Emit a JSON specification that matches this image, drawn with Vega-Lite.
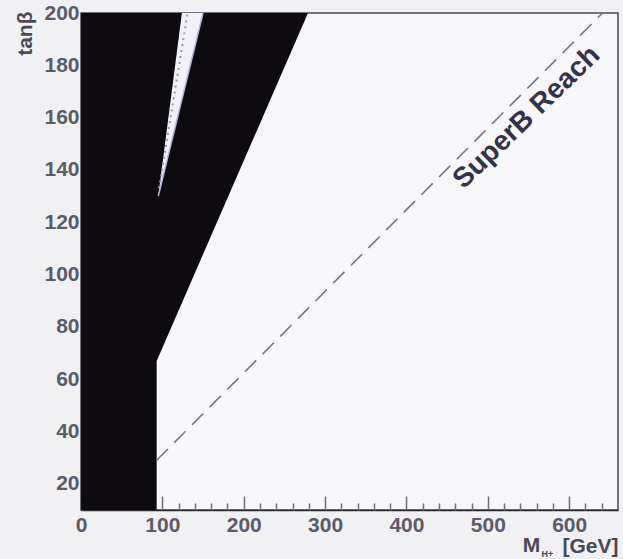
{
  "$schema": "https://vega.github.io/schema/vega-lite/v6.json",
  "width": 537,
  "height": 497,
  "autosize": {"type": "none"},
  "padding": {"left": 81, "top": 13, "right": 5, "bottom": 49},
  "background": "#f1f0f3",
  "config": {
    "view": {"fill": "#f8f7f9", "stroke": "#4a4952", "strokeWidth": 1.5},
    "font": "Liberation Sans",
    "axis": {"grid": false, "labelFont": "Liberation Sans", "titleFont": "Liberation Sans"}
  },
  "resolve": {"axis": {"x": "independent"}},
  "layer": [
    {
      "description": "excluded region: direct limit plus the tan(beta)/M_H bound",
      "data": {"values": [
        {"tb": 10, "lo": 0, "hi": 93},
        {"tb": 67, "lo": 0, "hi": 93},
        {"tb": 200, "lo": 0, "hi": 279}
      ]},
      "mark": {"type": "area", "orient": "horizontal", "color": "#0d0b10", "opacity": 1},
      "encoding": {
        "y": {
          "field": "tb", "type": "quantitative",
          "scale": {"domain": [10, 200], "nice": false, "zero": false},
          "axis": {
            "values": [20, 40, 60, 80, 100, 120, 140, 160, 180, 200],
            "domain": false, "ticks": false, "labelPadding": 2,
            "labelFontSize": 21, "labelFontWeight": "bold", "labelColor": "#5c5b68",
            "title": "tanβ", "titleFontSize": 21, "titleFontWeight": "bold", "titleColor": "#4a4956",
            "titleAngle": 270, "titleAlign": "right", "titleBaseline": "middle",
            "titleX": -56, "titleY": -2
          }
        },
        "x": {
          "field": "lo", "type": "quantitative",
          "scale": {"domain": [0, 660], "nice": false},
          "axis": {
            "orient": "bottom",
            "values": [0, 100, 200, 300, 400, 500, 600],
            "labelOverlap": false,
            "tickSize": -14,
            "tickColor": "#6f6e78", "tickWidth": 1.5,
            "domainColor": "#2c2b33", "domainWidth": 1.5,
            "labelPadding": 18, "labelFontSize": 21, "labelFontWeight": "bold", "labelColor": "#5c5b68",
            "labelFlush": false,
            "title": "[GeV]", "titleFontSize": 21, "titleFontWeight": "bold", "titleColor": "#4a4956",
            "titleAnchor": "end", "titleAlign": "right", "titleBaseline": "alphabetic",
            "titleX": 537, "titleY": 42
          }
        },
        "x2": {"field": "hi"}
      }
    },
    {
      "description": "narrow allowed band inside the excluded wedge",
      "data": {"values": [
        {"tb": 130, "lo": 95, "hi": 95},
        {"tb": 200, "lo": 124, "hi": 150}
      ]},
      "mark": {"type": "area", "orient": "horizontal", "color": "#f2f1f7"},
      "encoding": {
        "y": {"field": "tb", "type": "quantitative"},
        "x": {
          "field": "lo", "type": "quantitative",
          "axis": {
            "orient": "bottom",
            "values": [120, 140, 160, 180, 220, 240, 260, 280, 320, 340, 360, 380, 420, 440, 460, 480, 520, 540, 560, 580, 620, 640],
            "labels": false, "domain": false, "title": null,
            "tickSize": -7, "tickColor": "#6f6e78", "tickWidth": 1.5
          }
        },
        "x2": {"field": "hi"}
      }
    },
    {
      "data": {"values": [
        {"m": 96, "tb": 133},
        {"m": 131, "tb": 200}
      ]},
      "mark": {"type": "line", "color": "#9896a6", "strokeWidth": 2, "strokeDash": [2, 4]},
      "encoding": {
        "x": {"field": "m", "type": "quantitative", "axis": null},
        "y": {"field": "tb", "type": "quantitative"}
      }
    },
    {
      "data": {"values": [
        {"m": 95, "tb": 130},
        {"m": 150, "tb": 200}
      ]},
      "mark": {"type": "line", "color": "#b7b3dc", "strokeWidth": 1.5},
      "encoding": {
        "x": {"field": "m", "type": "quantitative", "axis": null},
        "y": {"field": "tb", "type": "quantitative"}
      }
    },
    {
      "description": "SuperB reach: tan(beta)/M_H = 0.312",
      "data": {"values": [
        {"m": 93, "tb": 29},
        {"m": 641, "tb": 200}
      ]},
      "mark": {"type": "line", "color": "#77767f", "strokeWidth": 1.6, "strokeDash": [16, 9]},
      "encoding": {
        "x": {"field": "m", "type": "quantitative", "axis": null},
        "y": {"field": "tb", "type": "quantitative"}
      }
    },
    {
      "data": {"values": [{}]},
      "mark": {"type": "text", "text": "SuperB Reach", "angle": -44, "fontSize": 28, "fontWeight": "bold", "color": "#34324a", "align": "center", "baseline": "middle"},
      "encoding": {
        "x": {"datum": 548, "type": "quantitative", "axis": null},
        "y": {"datum": 160, "type": "quantitative"}
      }
    },
    {
      "description": "axis symbol M with its subscript, left of the unit",
      "data": {"values": [{}]},
      "mark": {"type": "text", "text": "M", "fontSize": 21, "fontWeight": "bold", "color": "#4a4956", "align": "right", "baseline": "alphabetic"},
      "encoding": {
        "x": {"datum": 564.5, "type": "quantitative", "axis": null},
        "y": {"datum": -6.1, "type": "quantitative"}
      }
    },
    {
      "data": {"values": [{}]},
      "mark": {"type": "text", "text": "H+", "fontSize": 9, "fontWeight": "bold", "color": "#4a4956", "align": "left", "baseline": "middle"},
      "encoding": {
        "x": {"datum": 566, "type": "quantitative", "axis": null},
        "y": {"datum": -7.0, "type": "quantitative"}
      }
    }
  ]
}
